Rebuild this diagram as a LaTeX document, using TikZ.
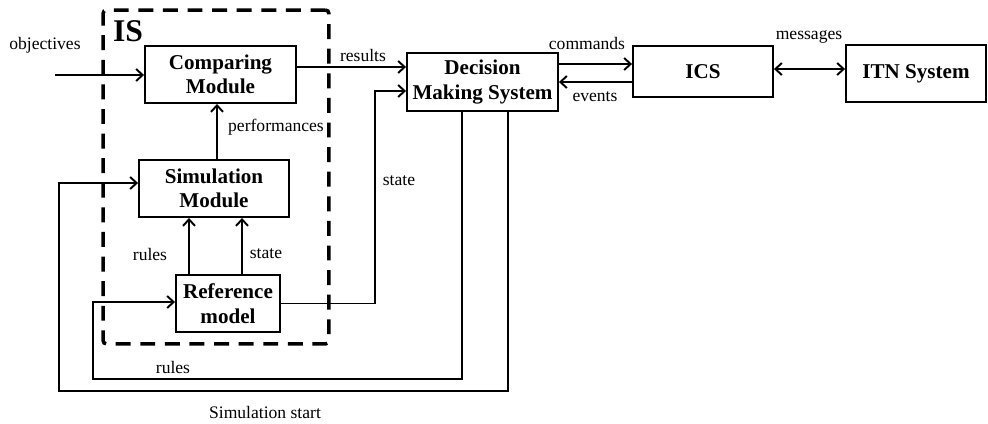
\documentclass[tikz,border=0pt]{standalone}
\usepackage{fontspec}
\setmainfont{Liberation Serif}
\usetikzlibrary{arrows.meta, positioning, calc}

\begin{document}
\begin{tikzpicture}[
  x=0.02cm, y=-0.02cm,
  BX/.style={draw, line width=1.1pt, minimum height=1.14cm, align=center,
             inner sep=1pt, font=\fontsize{12}{14}\selectfont\bfseries},
  LB/.style={inner sep=0pt, font=\fontsize{10}{12}\selectfont},
  AR/.style={-{Straight Barb[length=1.3mm,width=2.4mm]}, line width=1.1pt},
  BA/.style={{Straight Barb[length=1.3mm,width=2.4mm]}-{Straight Barb[length=1.3mm,width=2.4mm]}, line width=1.1pt},
  LN/.style={line width=1.1pt},
  ISBOX/.style={draw, line width=2pt, dash pattern=on 8.5pt off 5.5pt, rounded corners=2pt,
                minimum width=4.52cm, minimum height=6.68cm, inner sep=0pt}
]
  \useasboundingbox (0,0) rectangle (988,423);

  % IS frame
  \node[ISBOX] (is) at (216,177) {};
  \node[inner sep=0pt, font=\fontsize{18}{18}\selectfont\bfseries] (islbl) at (128,31) {IS};

  \node[BX, minimum width=3.02cm] (cmp) at (220.5,74.5) {Comparing\\Module};
  \node[BX, minimum width=3.0cm]  (sim) at (214,188.5)  {Simulation\\Module};
  \node[BX, minimum width=2.08cm] (ref) at (228,303.5)  {Reference\\model};
  \node[BX, minimum width=3.02cm, minimum height=1.16cm] (dms) at (482.5,82) {Decision\\Making System};
  \node[BX, minimum width=2.8cm, minimum height=1.02cm] (ics) at (703,71.5) {ICS};
  \node[BX, minimum width=2.8cm] (itn) at (916,73.5) {ITN System};

  \coordinate (obj) at (55,75);

  % connectors
  \draw[AR] (obj) -- (cmp.west |- obj);
  \draw[AR] (cmp.east |- 0,67) -- (dms.west |- 0,67);
  \draw[AR] (sim.north -| 217,0) -- (cmp.south -| 217,0);
  \foreach \p in {189,242} \draw[AR] (ref.north -| \p,0) -- (sim.south -| \p,0);
  \draw[AR] (ref.east) -- (375,303.5) -- (375,91) -- (dms.west |- 0,91);
  \draw[AR] (dms.east |- 0,64) -- (ics.west |- 0,64);
  \draw[AR] (ics.west |- 0,82) -- (dms.east |- 0,82);
  \draw[BA] (ics.east |- 0,69) -- (itn.west |- 0,69);
  \draw[AR] (dms.south -| 462,0) -- (462,379) -- (93,379) -- (93,302) -- (ref.west |- 0,302);
  \draw[AR] (dms.south -| 508,0) -- (508,391) -- (59,391) -- (59,183) -- (sim.west |- 0,183);

  % labels
  \node[LB] (l1) at (45,45)   {objectives};
  \node[LB] (l2) at (363,55)  {results};
  \node[LB] (l3) at (276,127) {performances};
  \node[LB] (l4) at (150,254) {rules};
  \node[LB] (l5) at (266,254) {state};
  \node[LB] (l6) at (399,181) {state};
  \node[LB] (l7) at (587,43)  {commands};
  \node[LB] (l8) at (595,97)  {events};
  \node[LB] (l9) at (809,37)  {messages};
  \node[LB] (l10) at (173,367) {rules};
  \node[LB] (l11) at (265,412) {Simulation start};
\end{tikzpicture}
\end{document}
